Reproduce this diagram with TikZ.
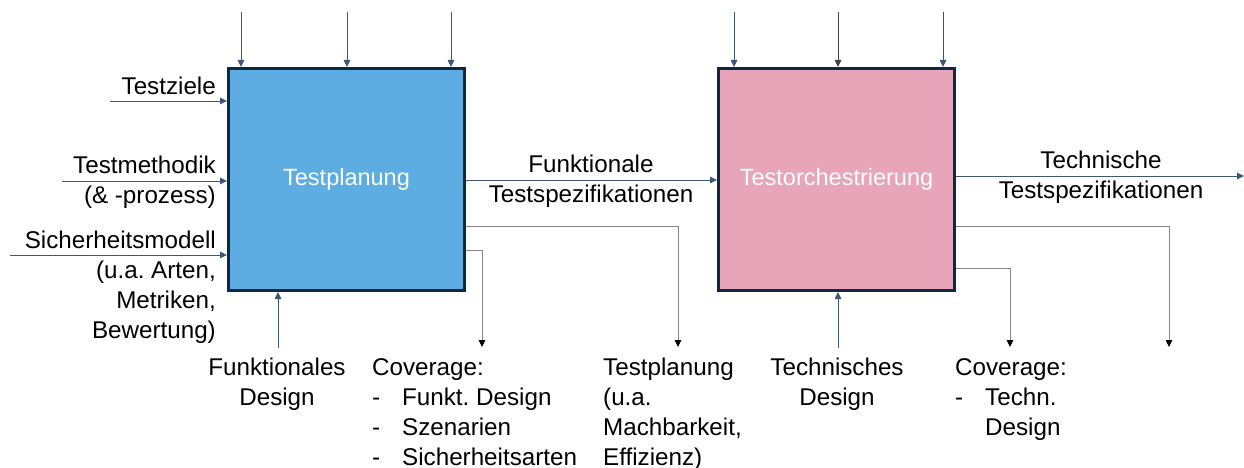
\documentclass[tikz,border=0pt]{standalone}
\usepackage{fontspec}
\setmainfont{Liberation Sans}
\usetikzlibrary{arrows.meta}
\frenchspacing
\definecolor{boxborder}{HTML}{0E2841}
\definecolor{planfill}{HTML}{5DADE2}
\definecolor{orchfill}{HTML}{E8A5BA}
\definecolor{inline}{HTML}{3B5878}
\definecolor{outline}{HTML}{858585}
\newcommand{\bul}{\makebox[30pt][l]{-}}
\begin{document}
\begin{tikzpicture}[x=1pt,y=-1pt,
  txt/.style={font=\fontsize{24.2}{30}\selectfont, inner sep=0pt},
  proc/.style={draw=boxborder, line width=3pt, minimum width=236pt,
    minimum height=222pt, inner sep=0pt, text=white,
    font=\fontsize{23.5}{30}\selectfont},
  inarrow/.style={draw=inline, line width=0.9pt,
    -{Triangle[length=7pt,width=6.5pt]}, color=inline},
  toparrowk/.style={draw=black!75, line width=0.9pt,
    -{Triangle[length=7pt,width=6.5pt]}},
  outarrow/.style={draw=outline, line width=0.9pt,
    -{Triangle[length=7pt,width=6.5pt,fill=black,color=black]}}]
\useasboundingbox (0,0) rectangle (1244,468);

% activity boxes
\node[proc, fill=planfill] (P) at (346.5,179.5) {Testplanung};
\node[proc, fill=orchfill] (O) at (836.5,179.5) {Testorchestrierung};

% controls from above
\coordinate (p1) at (241,12);
\coordinate (p2) at (347,12);
\coordinate (p3) at (451,12);
\coordinate (o1) at (734,12);
\coordinate (o2) at (838,12);
\coordinate (o3) at (943,12);
\draw[inarrow] (p1) -- (p1 |- P.north);
\draw[inarrow] (p2) -- (p2 |- P.north);
\draw[inarrow] (p3) -- (p3 |- P.north);
\draw[inarrow] (o1) -- (o1 |- O.north);
\draw[toparrowk] (o2) -- (o2 |- O.north);
\draw[inarrow] (o3) -- (o3 |- O.north);

% inputs on the left (multi-line texts are placed by their last baseline)
\node[txt, anchor=base east] (lz) at (216,95) {Testziele};
\node[txt, anchor=base east, align=right] (lm) at (216,203) {Testmethodik\\(\& -prozess)};
\node[txt, anchor=base east, align=right] (ls) at (216,338)
  {Sicherheitsmodell\\(u.a. Arten,\\Metriken,\\Bewertung)};
\coordinate (iz) at (110,101);
\coordinate (im) at (62,181);
\coordinate (is) at (10,255);
\draw[inarrow] (iz) -- (iz -| P.west);
\draw[inarrow] (im) -- (im -| P.west);
\draw[inarrow] (is) -- (is -| P.west);

% mechanisms from below
\node[txt, anchor=base, align=center] (lfd) at (277,405) {Funktionales\\Design};
\node[txt, anchor=base, align=center] (ltd) at (837,405) {Technisches\\Design};
\coordinate (bp) at (278,348);
\coordinate (bo) at (838,348);
\draw[inarrow] (bp) -- (bp |- P.south);
\draw[inarrow] (bo) -- (bo |- O.south);

% flow between the activities
\node[txt, anchor=base, align=center] (lfs) at (591,202) {Funktionale\\Testspezifikationen};
\coordinate (fs) at (0,180);
\draw[inarrow] (fs -| P.east) -- (fs -| O.west);

\node[txt, anchor=base, align=center] (lts) at (1101,198) {Technische\\Testspezifikationen};
\coordinate (ts) at (1244,176);
\draw[inarrow] (ts -| O.east) -- (ts);

% outputs going down
\node[txt, anchor=base west, align=left] (lcp) at (372,465)
  {Coverage:\\\bul Funkt. Design\\\bul Szenarien\\\bul Sicherheitsarten};
\node[txt, anchor=base west, align=left] (ltp) at (603,465)
  {Testplanung\\(u.a.\\Machbarkeit,\\Effizienz)};
\node[txt, anchor=base west, align=left] (lco) at (955,435)
  {Coverage:\\\bul Techn.\\\hspace*{30pt}Design};

\coordinate (c1) at (482,250);
\coordinate (c2) at (678,226);
\coordinate (c3) at (1010,268);
\coordinate (c4) at (1169,226);
\coordinate (e1) at (482,347);
\coordinate (e2) at (678,347);
\coordinate (e3) at (1010,347);
\coordinate (e4) at (1169,347);
\draw[outarrow] (c1 -| P.east) -- (c1) -- (e1);
\draw[outarrow] (c2 -| P.east) -- (c2) -- (e2);
\draw[outarrow] (c3 -| O.east) -- (c3) -- (e3);
\draw[outarrow] (c4 -| O.east) -- (c4) -- (e4);
\end{tikzpicture}
\end{document}
